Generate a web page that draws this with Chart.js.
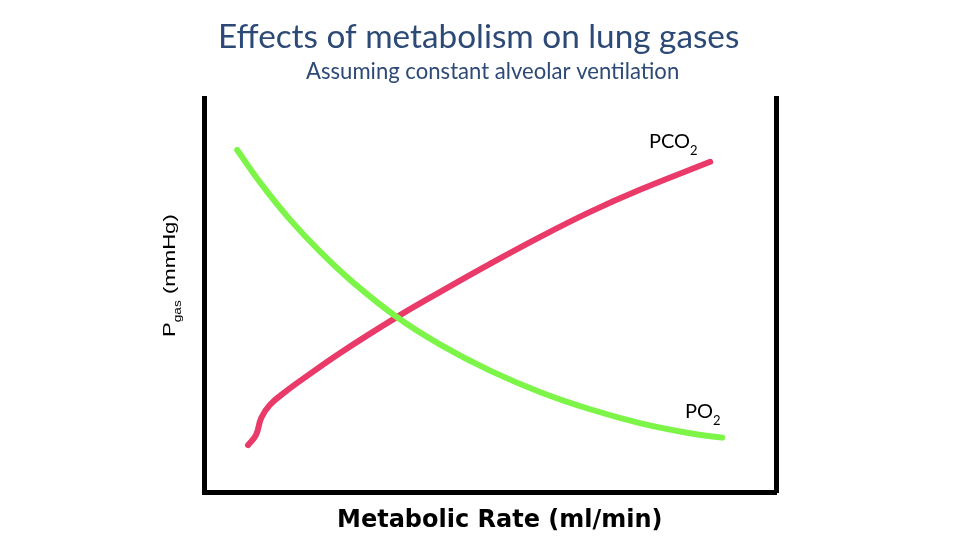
<!DOCTYPE html>
<html>
<head>
<meta charset="utf-8">
<script src="https://cdn.jsdelivr.net/npm/chart.js@4"></script>
<style>
  html, body { margin: 0; padding: 0; background: #fff; }
  #wrap { width: 960px; height: 540px; }
</style>
</head>
<body>
<div id="wrap"><canvas id="chart" width="960" height="540"></canvas></div>
<script>
// Metabolic rate vs alveolar gas pressures (arbitrary units).
const rateO2  = [5.8, 10.1, 15.0, 20.3, 25.9, 33.7, 41.3, 50.0, 58.7, 67.5, 76.2, 85.0, 90.6];
const po2     = [86.8, 78.0, 69.2, 61.0, 53.4, 44.4, 37.4, 30.8, 25.4, 21.0, 17.5, 14.9, 13.8];
const rateCO2 = [7.7, 9.1, 10.0, 11.5, 14.2, 16.8, 23.8, 33.7, 41.3, 50.0, 58.7, 67.5, 76.2, 88.5];
const pco2    = [11.9, 14.5, 18.8, 22.1, 25.4, 28.2, 35.3, 44.4, 50.8, 57.9, 64.7, 71.1, 76.7, 83.8];

const TITLE = 'Effects of metabolism on lung gases';
const SUBTITLE = 'Assuming constant alveolar ventilation';
const XTITLE = 'Metabolic Rate (ml/min)';

const pts = (xs, ys) => xs.map((x, i) => ({ x, y: ys[i] }));

// pick a font size so the text spans a given width
function fitFont(ctx, text, weight, family, width) {
  ctx.font = `${weight} 100px ${family}`;
  const size = 100 * width / ctx.measureText(text).width;
  return `${weight} ${size.toFixed(1)}px ${family}`;
}

// text with subscript parts: [[text, isSub], ...]
function subText(ctx, x, y, parts, size, family, subScale = 0.65, subDrop = 0.36) {
  let cx = x;
  parts.forEach(([t, sub]) => {
    ctx.font = `${sub ? size * subScale : size}px ${family}`;
    ctx.fillText(t, cx, sub ? y + size * subDrop : y);
    cx += ctx.measureText(t).width;
  });
}

const labels = {
  id: 'labels',
  afterDraw(chart) {
    const ctx = chart.ctx;
    ctx.save();
    ctx.textBaseline = 'alphabetic';
    ctx.textAlign = 'left';

    ctx.fillStyle = '#2d4a77';
    ctx.font = fitFont(ctx, TITLE, 'normal', 'Lato', 522);
    ctx.fillText(TITLE, 218, 48);
    ctx.font = fitFont(ctx, SUBTITLE, 'normal', 'Lato', 374);
    ctx.fillText(SUBTITLE, 306, 79);

    ctx.fillStyle = '#000';
    ctx.font = fitFont(ctx, XTITLE, 'bold', '"DejaVu Sans"', 325);
    ctx.fillText(XTITLE, 337, 527);

    subText(ctx, 649, 148, [['PCO', false], ['2', true]], 20, 'Lato');
    subText(ctx, 685, 418, [['PO', false], ['2', true]], 20, 'Lato');

    // y label, rotated and a little stretched along the text
    ctx.translate(175, 337);
    ctx.rotate(-Math.PI / 2);
    ctx.scale(1.3, 1);
    subText(ctx, 0, 0, [['P', false], ['gas', true], [' (mmHg)', false]], 17,
            '"Liberation Sans"', 0.62, 0.33);
    ctx.restore();
  }
};

const hidden = { display: false };
const edge = { display: true, color: '#000', width: 5 };

new Chart(document.getElementById('chart'), {
  type: 'line',
  data: {
    datasets: [
      { label: 'PO2', data: pts(rateO2, po2), borderColor: '#7cf548' },
      { label: 'PCO2', data: pts(rateCO2, pco2), borderColor: '#ea3a6a' },
    ],
  },
  options: {
    responsive: false,
    animation: false,
    layout: { padding: { left: 204, right: 184, top: 98, bottom: 48 } },
    elements: {
      line: { borderWidth: 6, tension: 0.4, borderCapStyle: 'round', borderJoinStyle: 'round', fill: false },
      point: { radius: 0 },
    },
    plugins: { legend: hidden, tooltip: { enabled: false }, title: hidden },
    scales: {
      x: {
        type: 'linear', min: 0, max: 100,
        grid: hidden, ticks: hidden, border: edge,
        afterFit: s => { s.height = 0; },
      },
      y: {
        min: 0, max: 100,
        grid: hidden, ticks: hidden, border: edge,
        afterFit: s => { s.width = 0; },
      },
      yr: {
        position: 'right', min: 0, max: 100,
        grid: hidden, ticks: hidden, border: edge,
        afterFit: s => { s.width = 0; },
      },
    },
  },
  plugins: [labels],
});
</script>
</body>
</html>
